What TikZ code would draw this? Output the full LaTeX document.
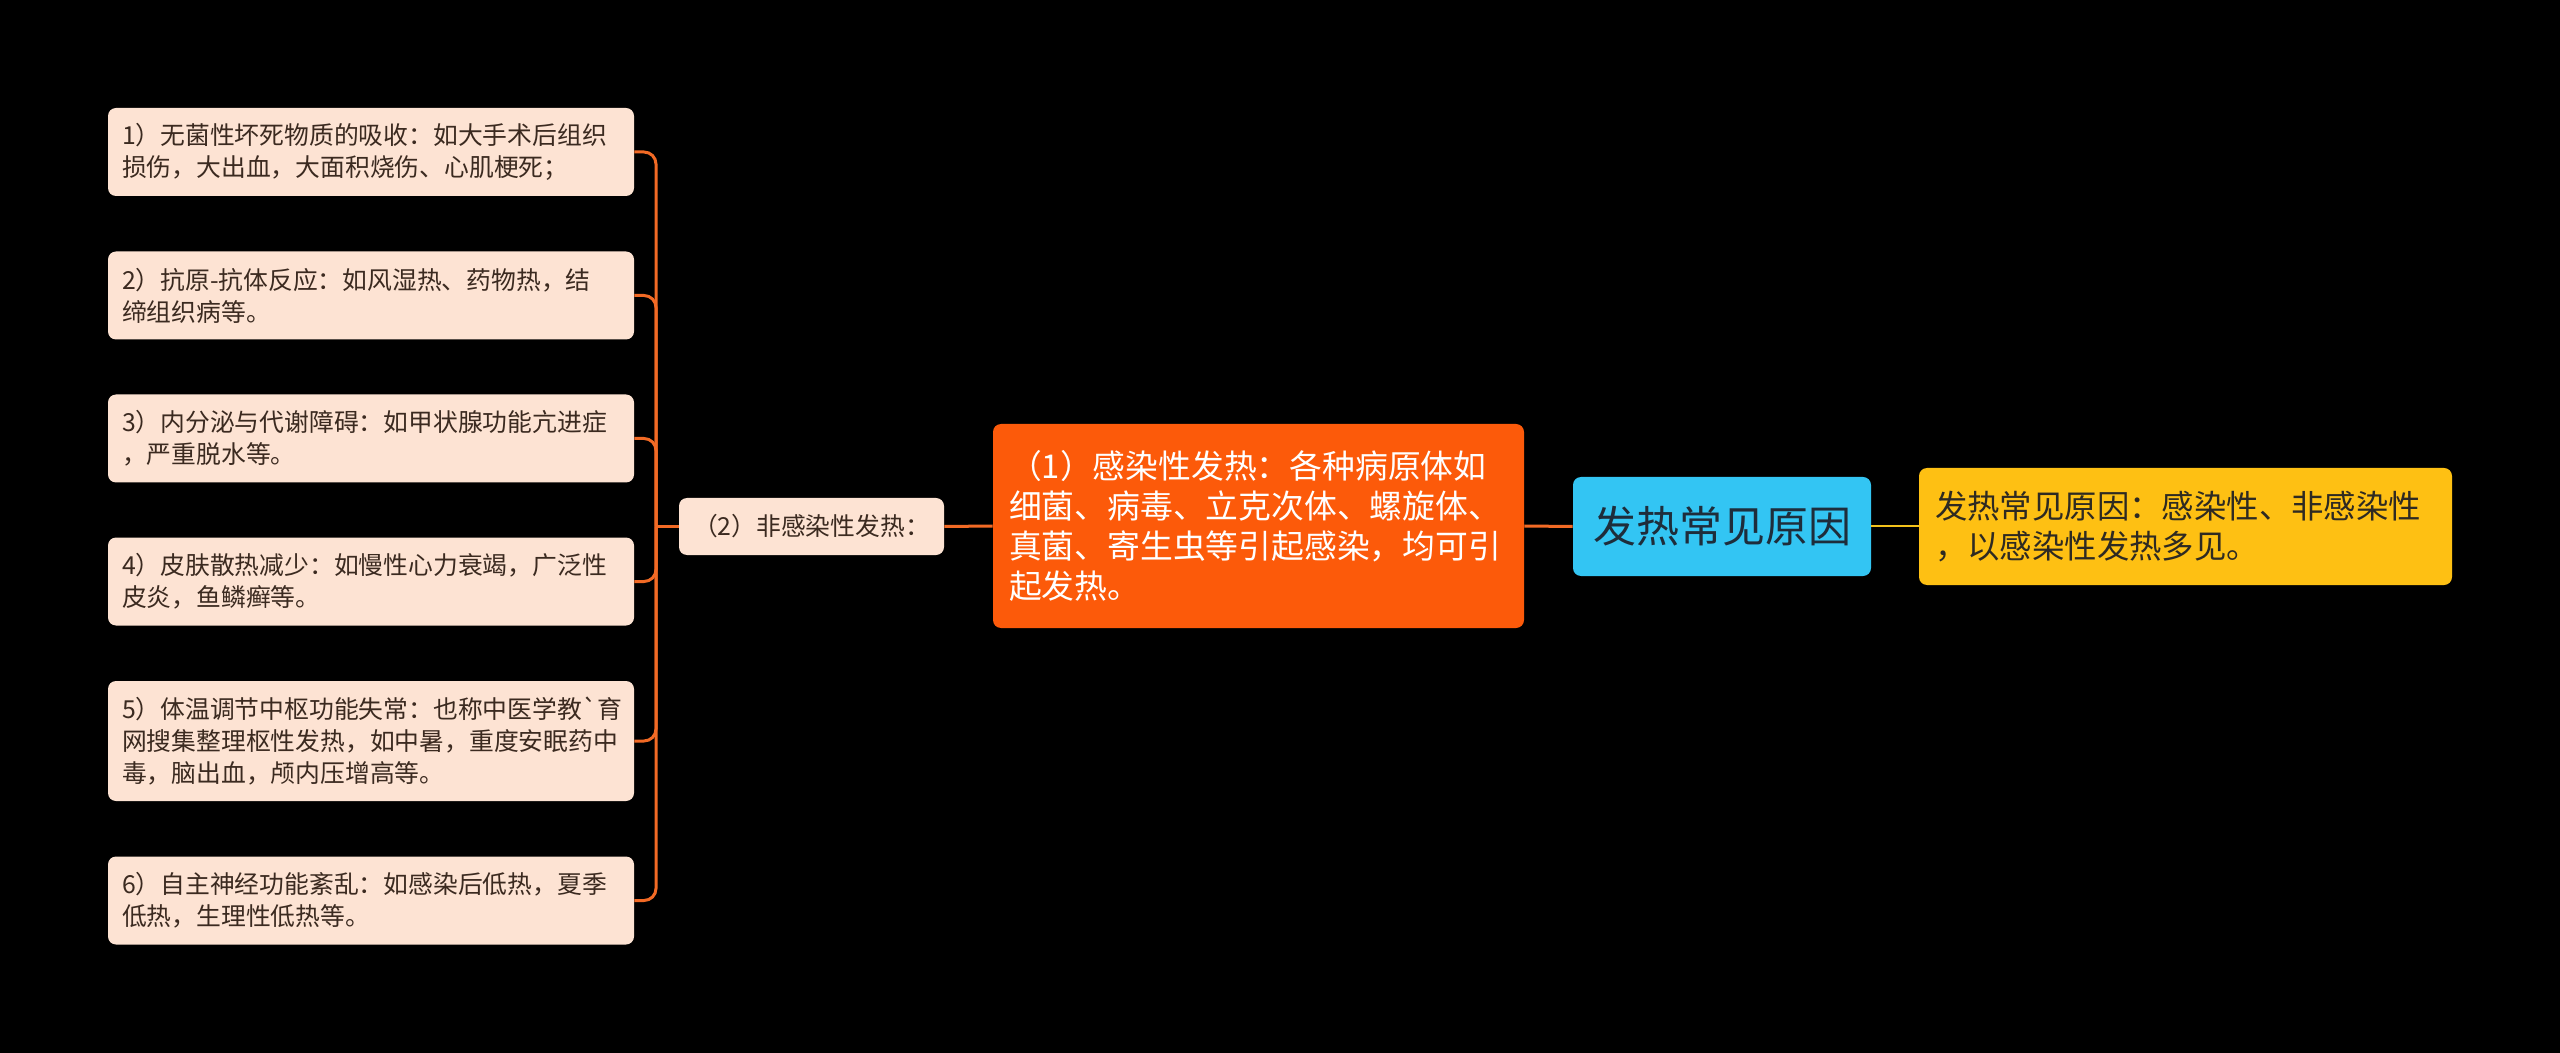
\documentclass[tikz,border=0pt]{standalone}
\usepackage{fontspec}
\setmainfont{Noto Sans CJK SC}
\usepackage{tikz}
\usetikzlibrary{shapes}

\definecolor{leaffill}{HTML}{FDE3D3}
\definecolor{leaftext}{HTML}{3B2A20}
\definecolor{branchfill}{HTML}{FC5A0A}
\definecolor{rootfill}{HTML}{33C5F3}
\definecolor{roottext}{HTML}{1E2D3B}
\definecolor{notefill}{HTML}{FEC013}
\definecolor{notetext}{HTML}{2E2A22}
\definecolor{linkorange}{HTML}{F26A25}
\definecolor{linkyellow}{HTML}{F2C21B}

\begin{document}
\begin{tikzpicture}[x=0.5pt,y=-0.5pt,
  box/.style={fill=#1,rounded corners=4pt,inner ysep=0pt},
  leaf/.style={box=leaffill,text=leaftext,minimum width=263pt,text width=249pt,
    inner xsep=7pt,align=left,font=\fontsize{12.4}{16}\selectfont},
  link/.style={draw=linkorange,line width=1.5pt}]
\fill[black] (0,0) rectangle (2560,1053);

% leaves of the non-infectious branch
\node[leaf,minimum height=44pt] (l1) at (371,152) {1）无菌性坏死物质的吸收：如大手术后组织\\损伤，大出血，大面积烧伤、心肌梗死；};
\node[leaf,minimum height=44pt] (l2) at (371,295.5) {2）抗原-抗体反应：如风湿热、药物热，结\\缔组织病等。};
\node[leaf,minimum height=44pt] (l3) at (371,438.5) {3）内分泌与代谢障碍：如甲状腺功能亢进症\\，严重脱水等。};
\node[leaf,minimum height=44pt] (l4) at (371,581.5) {4）皮肤散热减少：如慢性心力衰竭，广泛性\\皮炎，鱼鳞癣等。};
\node[leaf,minimum height=60pt] (l5) at (371,741) {5）体温调节中枢功能失常：也称中医学教\textasciigrave 育\\网搜集整理枢性发热，如中暑，重度安眠药中\\毒，脑出血，颅内压增高等。};
\node[leaf,minimum height=44pt] (l6) at (371,900.5) {6）自主神经功能紊乱：如感染后低热，夏季\\低热，生理性低热等。};

% main chain
\node[box=leaffill,text=leaftext,minimum width=132.5pt,minimum height=28.5pt,
  font=\fontsize{12.4}{16}\selectfont] (noninf) at (811.5,526.5) {（2）非感染性发热：};
\node[box=branchfill,text=white,minimum width=265.5pt,minimum height=102pt,
  text width=249.5pt,inner xsep=8pt,align=left,font=\fontsize{16.4}{20}\selectfont]
  (inf) at (1258.5,526) {（1）感染性发热：各种病原体如\\细菌、病毒、立克次体、螺旋体、\\真菌、寄生虫等引起感染，均可引\\起发热。};
\node[box=rootfill,text=roottext,minimum width=149pt,minimum height=49.5pt,
  font=\fontsize{21.5}{26}\selectfont] (root) at (1722,526.5) {发热常见原因};
\node[box=notefill,text=notetext,minimum width=266.5pt,minimum height=58.5pt,
  text width=250.5pt,inner xsep=8pt,align=left,font=\fontsize{16.2}{20}\selectfont]
  (note) at (2185.5,526.5) {发热常见原因：感染性、非感染性\\，以感染性发热多见。};

% connectors
\coordinate (trunk) at (656,526.5);
\foreach \n in {1,...,6}
  \draw[link,rounded corners=6pt] (l\n.east) -| (trunk);
\draw[link] (trunk) -- (noninf.west);
\draw[link] (inf.west) -- (noninf.east);
\draw[link] (root.west) -- (inf.east);
\draw[link,draw=linkyellow,line width=1pt] (root.east) -- (note.west);
\end{tikzpicture}
\end{document}
